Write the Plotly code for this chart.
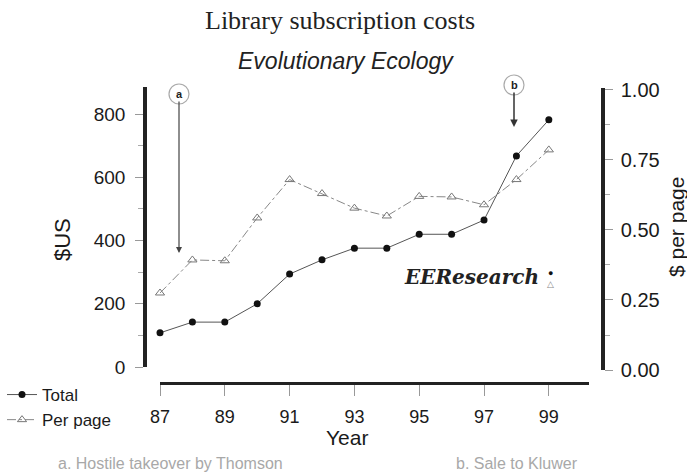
import plotly.graph_objects as go

# ---- data ----
years = [87, 88, 89, 90, 91, 92, 93, 94, 95, 96, 97, 98, 99]
total_cost = [108, 142, 142, 200, 294, 339, 376, 376, 420, 420, 465, 668, 782]
per_page_cost = [0.275, 0.393, 0.39, 0.543, 0.68, 0.63, 0.578, 0.55, 0.62, 0.618, 0.59, 0.68, 0.786]
x_tick_vals = [87, 89, 91, 93, 95, 97, 99]
x_tick_text = ["87", "89", "91", "93", "95", "97", "99"]
left_tick_vals = [0, 200, 400, 600, 800]
right_tick_vals = [0, 0.25, 0.5, 0.75, 1.0]

W, H = 687, 474
def px(x):
    return x / W
def py(y):
    return 1 - y / H

SANS = "Liberation Sans, Arial, sans-serif"
INK = "#1a1a1a"

fig = go.Figure()
fig.add_trace(go.Scatter(
    x=years, y=total_cost, name="Total", mode="lines+markers",
    line=dict(color="#555555", width=1),
    marker=dict(symbol="circle", size=7, color="#111111"),
    xaxis="x", yaxis="y", cliponaxis=False,
))
fig.add_trace(go.Scatter(
    x=years, y=per_page_cost, name="Per page", mode="lines+markers",
    line=dict(color="#888888", width=1, dash="dashdot"),
    marker=dict(symbol="triangle-up-open", size=8, color="#777777", line=dict(width=1)),
    xaxis="x", yaxis="y2", cliponaxis=False,
))

axis_common = dict(showgrid=False, zeroline=False, showline=True,
                   linecolor="#222222", ticks="outside", tickcolor="#999999")

fig.update_layout(
    width=W, height=H,
    margin=dict(l=0, r=0, t=0, b=0, autoexpand=False),
    paper_bgcolor="white", plot_bgcolor="rgba(0,0,0,0)",
    showlegend=True,
    legend=dict(x=px(2), y=py(377), xanchor="left", yanchor="top",
                font=dict(family=SANS, size=17, color=INK),
                bgcolor="rgba(0,0,0,0)", itemwidth=30, tracegroupgap=0),
    xaxis=dict(domain=[px(160), px(589)], range=[87, 100.24], anchor="free",
               position=py(383), linewidth=3, ticklen=11, tickwidth=1,
               tickvals=x_tick_vals, ticktext=x_tick_text, ticklabelstandoff=5,
               tickfont=dict(family=SANS, size=18, color=INK), **axis_common),
    yaxis=dict(domain=[py(367), py(87)], range=[0, 886], anchor="free",
               position=px(145), linewidth=3.5, ticklen=8, tickwidth=1,
               tickvals=left_tick_vals, ticklabelstandoff=6,
               tickfont=dict(family=SANS, size=19, color=INK),
               minor=dict(tickvals=[100, 300, 500, 700], ticklen=5, tickcolor="#aaaaaa", ticks="outside"),
               **axis_common),
    yaxis2=dict(domain=[py(370), py(88)], range=[0, 1.007], anchor="free",
                position=px(603), side="right", linewidth=3.5, ticklen=8, tickwidth=1,
                tickvals=right_tick_vals, tickformat=".2f", ticklabelstandoff=4,
                tickfont=dict(family=SANS, size=20, color=INK),
                minor=dict(tickvals=[0.125, 0.375, 0.625, 0.875], ticklen=5, tickcolor="#aaaaaa", ticks="outside"),
                **axis_common),
)

ann = []
ann.append(dict(x=px(340), y=py(20), text="Library subscription costs",
                font=dict(family="Liberation Serif, serif", size=26, color="#222")))
ann.append(dict(x=px(346), y=py(61), text="<i>Evolutionary Ecology</i>",
                font=dict(family=SANS, size=23, color="#222")))
ann.append(dict(x=px(62), y=py(240), text="$US", textangle=-90,
                font=dict(family=SANS, size=22, color=INK)))
ann.append(dict(x=px(676), y=py(227), text="$ per page", textangle=-90,
                font=dict(family=SANS, size=21, color=INK)))
ann.append(dict(x=px(347), y=py(437), text="Year",
                font=dict(family=SANS, size=21, color=INK)))
ann.append(dict(x=px(170), y=py(463), text="a. Hostile takeover by Thomson",
                font=dict(family=SANS, size=16, color="#a8a8a8")))
ann.append(dict(x=px(517), y=py(463), text="b. Sale to Kluwer",
                font=dict(family=SANS, size=16, color="#a8a8a8")))
ann.append(dict(x=px(471), y=py(277), text="<b><i>EEResearch</i></b>",
                font=dict(family="DejaVu Serif, serif", size=20, color="#222")))
ann.append(dict(x=px(550), y=py(273), text="●", font=dict(family=SANS, size=9, color="#111")))
ann.append(dict(x=px(550), y=py(284), text="△", font=dict(family=SANS, size=9, color="#888")))
# event arrows
ann.append(dict(x=px(179), y=py(253), ax=0, ay=94 - 253, text="<b>a</b>",
                showarrow=True, arrowhead=2, arrowsize=1, arrowwidth=1.2, arrowcolor="#444",
                font=dict(family=SANS, size=11, color="#222")))
ann.append(dict(x=px(514), y=py(127), ax=0, ay=85 - 127, text="<b>b</b>",
                showarrow=True, arrowhead=2, arrowsize=1, arrowwidth=1.5, arrowcolor="#333",
                font=dict(family=SANS, size=11, color="#222")))
for a in ann:
    a.setdefault("showarrow", False)
    a.update(xref="paper", yref="paper", xanchor="center", yanchor="middle")
fig.update_layout(annotations=ann)

fig.update_layout(shapes=[
    dict(type="circle", xref="paper", yref="paper",
         x0=px(169), x1=px(189), y0=py(104), y1=py(84), line=dict(color="#aaaaaa", width=1.2)),
    dict(type="circle", xref="paper", yref="paper",
         x0=px(504), x1=px(524), y0=py(95), y1=py(75), line=dict(color="#aaaaaa", width=1.2)),
])

fig.write_html("out.html", config={"displayModeBar": False},
               post_script="document.body.style.margin='0';")
